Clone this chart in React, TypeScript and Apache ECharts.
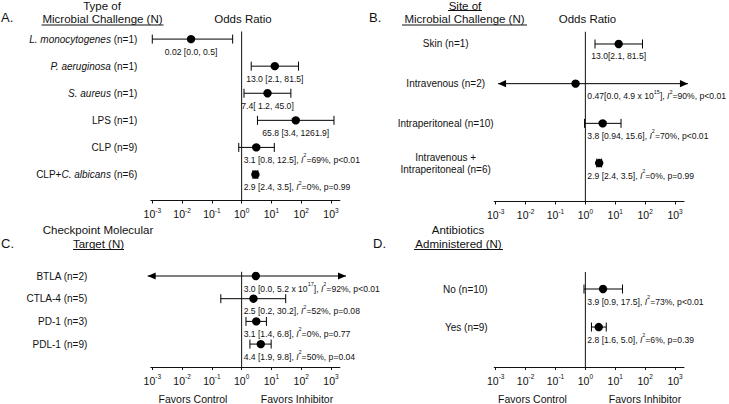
import React, { useEffect, useRef } from 'react';
import * as echarts from 'echarts';

const FONT = '"Liberation Sans", Arial, Helvetica, sans-serif';
const INK = '#111';

// ---------- Panel A: Type of microbial challenge ----------
const aCategories = ['*L. monocytogenes* (n=1)', '*P. aeruginosa* (n=1)', '*S. aureus* (n=1)', 'LPS (n=1)', 'CLP (n=9)', 'CLP+*C. albicans* (n=6)'];
const aStudies = [1, 1, 1, 1, 9, 6];
const aOdds = [0.02, 13.0, 7.4, 65.8, 3.1, 2.9];
const aLower = [0.001, 2.1, 1.2, 3.4, 0.8, 2.4];
const aUpper = [0.5, 81.5, 45.0, 1261.9, 12.5, 3.5];
const aLowerArrow = [false, false, false, false, false, false];
const aUpperArrow = [false, false, false, false, false, false];
const aText = ['0.02 [0.0, 0.5]', '13.0 [2.1, 81.5]', '7.4[ 1.2, 45.0]', '65.8 [3.4, 1261.9]', '3.1 [0.8, 12.5], I^2=69%, p<0.01', '2.9 [2.4, 3.5], I^2=0%, p=0.99'];

// ---------- Panel B: Site of microbial challenge ----------
const bCategories = ['Skin (n=1)', 'Intravenous (n=2)', 'Intraperitoneal (n=10)', 'Intravenous +\nIntraperitoneal (n=6)'];
const bStudies = [1, 2, 10, 6];
const bOdds = [13.0, 0.47, 3.8, 2.9];
const bLower = [2.1, 0.0012, 0.94, 2.4];
const bUpper = [81.5, 2700, 15.6, 3.5];
const bLowerArrow = [false, true, false, false];
const bUpperArrow = [false, true, false, false];
const bText = ['13.0[2.1, 81.5]', '0.47[0.0, 4.9 x 10^15], I^2=90%, p<0.01', '3.8 [0.94, 15.6], I^2=70%, p<0.01', '2.9 [2.4, 3.5], I^2=0%, p=0.99'];

// ---------- Panel C: Checkpoint molecular target ----------
const cCategories = ['BTLA (n=2)', 'CTLA-4 (n=5)', 'PD-1 (n=3)', 'PDL-1 (n=9)'];
const cStudies = [2, 5, 3, 9];
const cOdds = [3.0, 2.5, 3.1, 4.4];
const cLower = [0.0007, 0.2, 1.4, 1.9];
const cUpper = [3200, 30.2, 6.8, 9.8];
const cLowerArrow = [true, false, false, false];
const cUpperArrow = [true, false, false, false];
const cText = ['3.0 [0.0, 5.2 x 10^17], I^2=92%, p<0.01', '2.5 [0.2, 30.2], I^2=52%, p=0.08', '3.1 [1.4, 6.8], I^2=0%, p=0.77', '4.4 [1.9, 9.8], I^2=50%, p=0.04'];

// ---------- Panel D: Antibiotics administered ----------
const dCategories = ['No (n=10)', 'Yes (n=9)'];
const dStudies = [10, 9];
const dOdds = [3.9, 2.8];
const dLower = [0.9, 1.6];
const dUpper = [17.5, 5.0];
const dLowerArrow = [false, false];
const dUpperArrow = [false, false];
const dText = ['3.9 [0.9, 17.5], I^2=73%, p<0.01', '2.8 [1.6, 5.0], I^2=6%, p=0.39'];

// x-axis tick values (odds ratio, log scale)
const xTicks = [1e-3, 1e-2, 1e-1, 1, 1e1, 1e2, 1e3];

type PanelData = {
  cats: string[]; n: number[]; odds: number[]; lower: number[]; upper: number[];
  lowArrow: boolean[]; highArrow: boolean[]; text: string[];
};
type Layout = {
  left: number; top: number; width: number; height: number;
  yMin: number; yMax: number; labelDx: number; labelAlign: string;
};

function valueRich(t: string) {
  return t
    .split(/(I\^2|\^\d+)/)
    .filter((p) => p.length > 0)
    .map((p) => {
      if (p === 'I^2') return '{vi|I}{vs|2}';
      if (p.startsWith('^')) return `{vs|${p.slice(1)}}`;
      return `{v|${p}}`;
    })
    .join('');
}

function labelRich(t: string) {
  return t
    .split(/(\*[^*]+\*)/)
    .filter((p) => p.length > 0)
    .map((p) => (p.startsWith('*') ? `{li|${p.slice(1, -1)}}` : `{l|${p}}`))
    .join('');
}

const valueRichStyles = {
  v: { fontSize: 8.6, fontFamily: FONT, fill: INK, lineHeight: 12, verticalAlign: 'bottom' },
  vi: { fontSize: 8.6, fontFamily: FONT, fill: INK, fontStyle: 'italic', lineHeight: 12, verticalAlign: 'bottom' },
  vs: { fontSize: 5.5, fontFamily: FONT, fill: INK, lineHeight: 7, verticalAlign: 'top' },
};
const labelRichStyles = {
  l: { fontSize: 10, fontFamily: FONT, fill: INK, lineHeight: 12 },
  li: { fontSize: 10, fontFamily: FONT, fill: INK, fontStyle: 'italic', lineHeight: 12 },
};

const panels: { d: PanelData; l: Layout }[] = [
  {
    d: { cats: aCategories, n: aStudies, odds: aOdds, lower: aLower, upper: aUpper, lowArrow: aLowerArrow, highArrow: aUpperArrow, text: aText },
    l: { left: 150.8, top: 31.5, width: 189.1, height: 169, yMin: -0.28, yMax: 5.96, labelDx: -15, labelAlign: 'right' },
  },
  {
    d: { cats: bCategories, n: bStudies, odds: bOdds, lower: bLower, upper: bUpper, lowArrow: bLowerArrow, highArrow: bUpperArrow, text: bText },
    l: { left: 494.2, top: 31.7, width: 189.8, height: 169.8, yMin: -0.31, yMax: 3.97, labelDx: -50, labelAlign: 'center' },
  },
  {
    d: { cats: cCategories, n: cStudies, odds: cOdds, lower: cLower, upper: cUpper, lowArrow: cLowerArrow, highArrow: cUpperArrow, text: cText },
    l: { left: 150.8, top: 271.7, width: 189.1, height: 95.3, yMin: -0.19, yMax: 4.01, labelDx: -65, labelAlign: 'right' },
  },
  {
    d: { cats: dCategories, n: dStudies, odds: dOdds, lower: dLower, upper: dUpper, lowArrow: dLowerArrow, highArrow: dUpperArrow, text: dText },
    l: { left: 494.2, top: 272, width: 189.8, height: 95, yMin: -0.447, yMax: 2.05, labelDx: -8, labelAlign: 'right' },
  },
];

function buildOption() {
  const grid: any[] = [];
  const xAxis: any[] = [];
  const yAxis: any[] = [];
  const series: any[] = [];

  panels.forEach((p, gi) => {
    const { d, l } = p;
    grid.push({ left: l.left, top: l.top, width: l.width, height: l.height, containLabel: false });
    xAxis.push({
      type: 'log',
      logBase: 10,
      gridIndex: gi,
      position: 'bottom',
      min: Math.pow(10, -3.05),
      max: Math.pow(10, 3.3),
      axisLine: { show: true, onZero: false, lineStyle: { color: INK, width: 1 } },
      axisTick: { show: true, length: 3, customValues: xTicks, lineStyle: { color: INK, width: 1 } },
      splitLine: { show: false },
      minorTick: { show: false },
      axisLabel: {
        customValues: xTicks,
        margin: 6,
        formatter: (v: number) => `{b|10}{s|${Math.round(Math.log10(v))}}`,
        rich: {
          b: { fontSize: 10.5, fontFamily: FONT, color: INK, lineHeight: 13, verticalAlign: 'bottom' },
          s: { fontSize: 6.5, fontFamily: FONT, color: INK, lineHeight: 8, verticalAlign: 'top' },
        },
      },
    });
    yAxis.push({ type: 'value', gridIndex: gi, inverse: true, min: l.yMin, max: l.yMax, show: false });

    // null line (odds ratio = 1)
    series.push({
      type: 'line',
      xAxisIndex: gi,
      yAxisIndex: gi,
      data: [[1, l.yMin], [1, l.yMax]],
      symbol: 'none',
      lineStyle: { color: INK, width: 1 },
      silent: true,
    });

    const data = d.odds.map((o, i) => [o, d.lower[i], d.upper[i], i, d.lowArrow[i] ? 1 : 0, d.highArrow[i] ? 1 : 0]);
    series.push({
      type: 'custom',
      xAxisIndex: gi,
      yAxisIndex: gi,
      clip: false,
      encode: { x: [0, 1, 2], y: 3 },
      data,
      renderItem: (params: any, api: any) => {
        const i = params.dataIndex;
        const row = api.value(3);
        const pE = api.coord([api.value(0), row]);
        const pL = api.coord([api.value(1), row]);
        const pH = api.coord([api.value(2), row]);
        const pNull = api.coord([1, row]);
        const pStart = api.coord([1e-3, row]);
        const y = pE[1];
        const stroke = { stroke: '#000', lineWidth: 1 };
        const children: any[] = [];
        children.push({ type: 'line', shape: { x1: pL[0], y1: y, x2: pH[0], y2: y }, style: stroke });
        if (api.value(4)) {
          children.push({ type: 'polygon', shape: { points: [[pL[0], y], [pL[0] + 8, y - 3.6], [pL[0] + 8, y + 3.6]] }, style: { fill: '#000' } });
        } else {
          children.push({ type: 'line', shape: { x1: pL[0], y1: y - 4.5, x2: pL[0], y2: y + 4.5 }, style: stroke });
        }
        if (api.value(5)) {
          children.push({ type: 'polygon', shape: { points: [[pH[0], y], [pH[0] - 8, y - 3.6], [pH[0] - 8, y + 3.6]] }, style: { fill: '#000' } });
        } else {
          children.push({ type: 'line', shape: { x1: pH[0], y1: y - 4.5, x2: pH[0], y2: y + 4.5 }, style: stroke });
        }
        children.push({ type: 'circle', shape: { cx: pE[0], cy: y, r: 4.2 }, style: { fill: '#000' } });
        const single = d.n[i] === 1;
        children.push({
          type: 'text',
          x: single ? pE[0] : pNull[0] + 2,
          y: y + 11,
          style: {
            text: valueRich(d.text[i]),
            rich: valueRichStyles,
            align: single ? 'center' : 'left',
            verticalAlign: 'middle',
          },
        });
        children.push({
          type: 'text',
          x: pStart[0] + l.labelDx,
          y,
          style: {
            text: labelRich(d.cats[i]),
            rich: labelRichStyles,
            align: l.labelAlign,
            verticalAlign: 'middle',
          },
        });
        return { type: 'group', children };
      },
    });
  });

  const t = (text: string, x: number, y: number, size: number, align = 'center') => ({
    type: 'text',
    x,
    y,
    silent: true,
    style: { text, fill: INK, fontSize: size, fontFamily: FONT, align, verticalAlign: 'middle' },
  });
  const u = (x1: number, x2: number, y: number) => ({
    type: 'line',
    silent: true,
    shape: { x1, y1: y, x2, y2: y },
    style: { stroke: INK, lineWidth: 1 },
  });

  const graphic = [
    // Panel A headers
    t('A.', 1, 17, 13, 'left'),
    t('Type of', 102, 6, 11.5),
    t('Microbial Challenge (N)', 102.5, 19, 11.5),
    u(41.5, 163.5, 25),
    t('Odds Ratio', 243, 19, 11.5),
    // Panel B headers
    t('B.', 369, 17, 13, 'left'),
    t('Site of', 465, 5.5, 11.5),
    u(448, 482, 10.5),
    t('Microbial Challenge (N)', 464.5, 19, 11.5),
    u(402, 527, 25),
    t('Odds Ratio', 587.5, 19, 11.5),
    // Panel C headers
    t('C.', 1, 243, 13, 'left'),
    t('Checkpoint Molecular', 98, 230, 11.5),
    t('Target (N)', 98.5, 244, 11.5),
    u(73, 124, 249.5),
    // Panel D headers
    t('D.', 373, 243, 13, 'left'),
    t('Antibiotics', 458, 230, 11.5),
    t('Administered (N)', 458.5, 244, 11.5),
    u(414, 503, 249.5),
    // Bottom captions
    t('Favors Control', 193, 399, 10.5),
    t('Favors Inhibitor', 297, 399, 10.5),
    t('Favors Control', 532.5, 399, 10.5),
    t('Favors Inhibitor', 645, 399, 10.5),
  ];

  return {
    animation: false,
    backgroundColor: '#fff',
    textStyle: { fontFamily: FONT },
    grid,
    xAxis,
    yAxis,
    series,
    graphic,
  };
}

export default function App() {
  const ref = useRef<HTMLDivElement>(null);
  useEffect(() => {
    if (!ref.current) return;
    const chart = echarts.init(ref.current, null, { renderer: 'svg' });
    chart.setOption(buildOption() as any);
    return () => chart.dispose();
  }, []);
  return <div ref={ref} style={{ position: 'absolute', left: 0, top: 0, width: 729, height: 404, background: '#fff' }} />;
}
